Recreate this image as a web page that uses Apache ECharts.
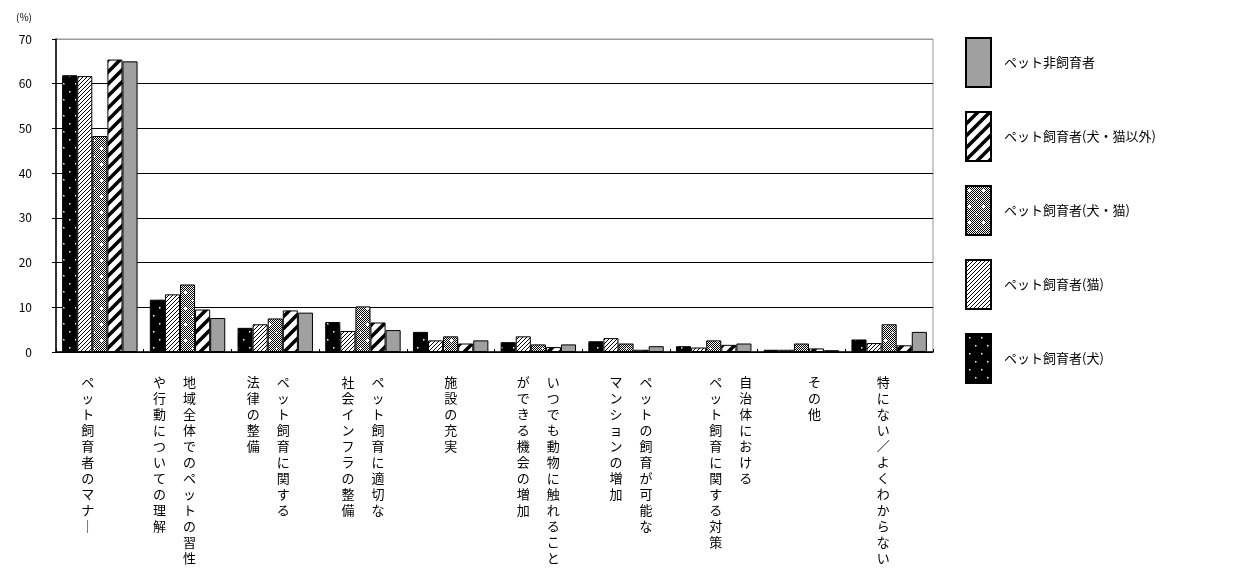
<!DOCTYPE html>
<html><head><meta charset="utf-8">
<script src="https://cdn.jsdelivr.net/npm/echarts@6/dist/echarts.min.js"></script>
<style>html,body{margin:0;padding:0;background:#fff}#c{width:1238px;height:582px}</style>
</head><body><div id="c"></div>
<script>
// label columns (vertical writing, right column first)
const categoryLines = [
  ["ペット飼育者のマナー"],
  ["地域全体でのペットの習性", "や行動についての理解"],
  ["ペット飼育に関する", "法律の整備"],
  ["ペット飼育に適切な", "社会インフラの整備"],
  ["施設の充実"],
  ["いつでも動物に触れること", "ができる機会の増加"],
  ["ペットの飼育が可能な", "マンションの増加"],
  ["自治体における", "ペット飼育に関する対策"],
  ["その他"],
  ["特にない／よくわからない"]
];
const categories = categoryLines.map(l => l.join(""));
const seriesNames = ["ペット飼育者(犬)", "ペット飼育者(猫)", "ペット飼育者(犬・猫)", "ペット飼育者(犬・猫以外)", "ペット非飼育者"];
const dog      = [61.9, 11.7, 5.4, 6.7, 4.5, 2.2, 2.4, 1.3, 0.5, 2.8];
const cat      = [61.7, 12.9, 6.2, 4.7, 2.6, 3.5, 3.1, 1.0, 0.5, 2.0];
const dogCat   = [48.3, 15.1, 7.5, 10.2, 3.5, 1.7, 1.9, 2.6, 1.9, 6.2];
const other    = [65.4, 9.5, 9.3, 6.6, 1.9, 1.1, 0.5, 1.6, 0.8, 1.5];
const nonOwner = [65.0, 7.6, 8.8, 4.9, 2.6, 1.7, 1.3, 1.9, 0.4, 4.5];
const yTicks = [0, 10, 20, 30, 40, 50, 60, 70];

// layout: horizontal nudge of each category label (px)
const labelShift = [-12, -13, -7, 0, 0, 0, 5, 17, 13, -6];

function tile(w, h, draw) {
  const c = document.createElement('canvas'); c.width = w; c.height = h;
  const g = c.getContext('2d'); draw(g, w, h); return c;
}
const patDog = tile(12, 16, g => {
  g.fillStyle = '#000'; g.fillRect(0, 0, 12, 16);
  g.fillStyle = '#fff'; g.fillRect(3, 3, 1.5, 1.5); g.fillRect(9, 11, 1.5, 1.5);
});
const patCat = tile(4, 4, g => {
  g.fillStyle = '#fff'; g.fillRect(0, 0, 4, 4);
  g.fillStyle = '#000';
  for (let i = 0; i < 4; i++) g.fillRect(i, 3 - i, 1, 1);
});
const patDogCat = tile(14, 16, g => {
  g.fillStyle = '#fff'; g.fillRect(0, 0, 14, 16);
  g.fillStyle = '#000';
  for (let x = 0; x < 14; x++) for (let y = 0; y < 16; y++) if ((x + y) % 2 === 0) g.fillRect(x, y, 1, 1);
  g.fillStyle = '#fff';
  g.fillRect(2, 4, 3, 1); g.fillRect(3, 3, 1, 3);
  g.fillRect(9, 12, 3, 1); g.fillRect(10, 11, 1, 3);
});
const patOther = tile(12, 12, g => {
  g.fillStyle = '#fff'; g.fillRect(0, 0, 12, 12);
  g.strokeStyle = '#000'; g.lineWidth = 3.5;
  [[0, 12, 12, 0], [-6, 6, 6, -6], [6, 18, 18, 6]].forEach(([a, b, c, d]) => {
    g.beginPath(); g.moveTo(a, b); g.lineTo(c, d); g.stroke();
  });
});
const fills = [
  {image: patDog, repeat: 'repeat'},
  {image: patCat, repeat: 'repeat'},
  {image: patDogCat, repeat: 'repeat'},
  {image: patOther, repeat: 'repeat'},
  '#a0a0a0'
];
const values = [dog, cat, dogCat, other, nonOwner];

const vert = s => Array.from(s.replace(/ー/g, '｜'));
function labelFmt(v, idx) {
  const cols = categoryLines[idx];
  const d = labelShift[idx] || 0;
  const pre = d > 0 ? '{p' + idx + '| }' : '';
  const post = d < 0 ? '{p' + idx + '| }' : '';
  let lines;
  if (cols.length === 1) {
    lines = vert(cols[0]).map(ch => '{c|' + ch + '}');
  } else {
    const right = vert(cols[0]), left = vert(cols[1]);
    const n = Math.max(right.length, left.length);
    lines = [];
    for (let i = 0; i < n; i++) {
      lines.push('{c|' + (left[i] || '　') + '}{g| }{c|' + (right[i] || '　') + '}');
    }
  }
  return lines.map(l => pre + l + post).join('\n');
}

const FONT = '"Noto Sans CJK JP", "Noto Sans", sans-serif';
const rich = {
  c: {fontSize: 13, width: 14, align: 'center', lineHeight: 16, color: '#000', fontFamily: FONT},
  g: {width: 16, fontSize: 13, lineHeight: 16}
};
labelShift.forEach((d, i) => { rich['p' + i] = {width: Math.abs(2 * d), fontSize: 13, lineHeight: 16}; });

const chart = echarts.init(document.getElementById('c'));
chart.setOption({
  animation: false,
  textStyle: {fontFamily: FONT},
  grid: {left: 56, right: 305, top: 39, bottom: 230, show: true, borderColor: '#999', borderWidth: 1},
  legend: {
    orient: 'vertical', left: 960, top: 32, icon: 'rect',
    itemWidth: 25, itemHeight: 49, itemGap: 23,
    data: seriesNames.slice().reverse(),
    textStyle: {fontSize: 13, color: '#000', fontFamily: FONT, padding: [0, 0, 0, 8]}
  },
  xAxis: {
    type: 'category', data: categories,
    axisLine: {lineStyle: {color: '#000', width: 1.5}},
    axisTick: {show: true, inside: true, length: 3, lineStyle: {color: '#000'}},
    axisLabel: {interval: 0, margin: 22, formatter: labelFmt, rich}
  },
  yAxis: {
    type: 'value', min: 0, max: 70, interval: 10,
    name: '(%)', nameLocation: 'end', nameGap: 17,
    nameTextStyle: {fontSize: 10, color: '#000', align: 'right', padding: [0, 24, 0, 0]},
    axisLine: {show: true, lineStyle: {color: '#000', width: 1.5}},
    axisTick: {show: true, length: 4, lineStyle: {color: '#000'}},
    axisLabel: {fontSize: 12, color: '#000', margin: 24, formatter: v => yTicks.includes(v) ? String(v) : ''},
    splitLine: {show: true, lineStyle: {color: ['#000', '#000', '#000', '#000', '#000', '#000', '#000', '#999'], width: 1.2}}
  },
  series: seriesNames.map((name, i) => ({
    name, type: 'bar', data: values[i],
    barGap: '0%', barCategoryGap: '14%',
    itemStyle: {color: fills[i], borderColor: '#000', borderWidth: 1}
  }))
});
</script></body></html>
